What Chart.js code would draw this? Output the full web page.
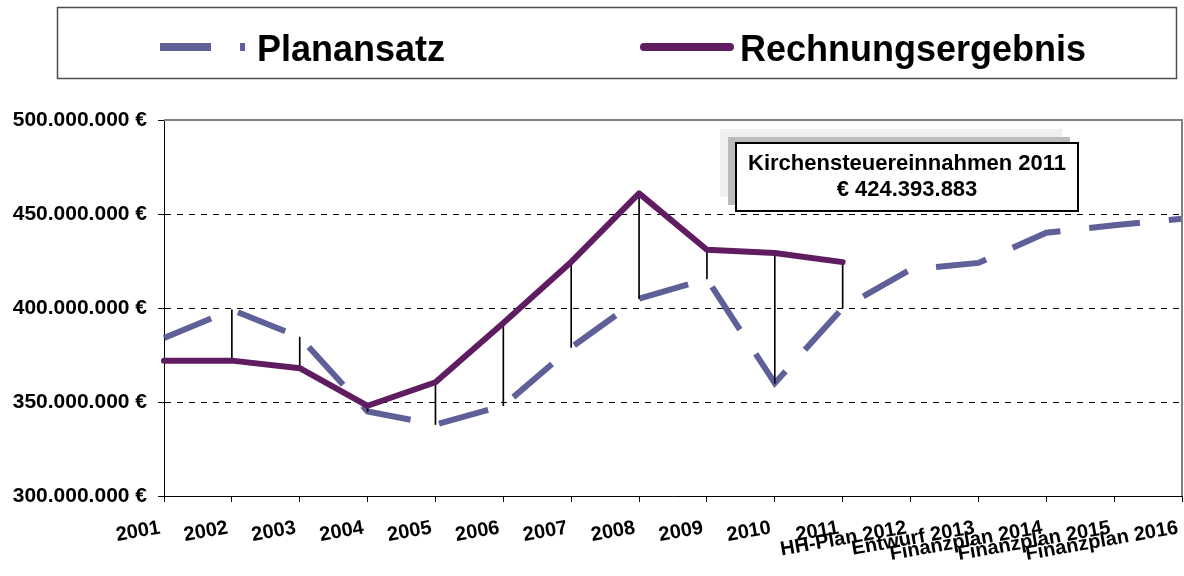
<!DOCTYPE html>
<html><head><meta charset="utf-8">
<script src="https://cdn.jsdelivr.net/npm/chart.js@4.4.1/dist/chart.umd.min.js"></script>
<style>html,body{margin:0;padding:0;background:#fff;}#wrap{width:1184px;height:576px;position:relative;}</style>
</head><body><div id="wrap"><canvas id="c" width="1184" height="576"></canvas></div>
<script>
const categories = ['2001','2002','2003','2004','2005','2006','2007','2008','2009','2010','2011','HH-Plan 2012','Entwurf 2013','Finanzplan 2014','Finanzplan 2015','Finanzplan 2016'];
const planansatz = [384000000, 399000000, 384500000, 345000000, 338000000, 348000000, 379000000, 405000000, 415500000, 360000000, 400000000, 420500000, 424000000, 440000000, 444000000, 447500000];
const rechnungsergebnis = [372000000, 372000000, 368000000, 348000000, 360500000, 392000000, 424500000, 461000000, 431000000, 429300000, 424393883, null, null, null, null, null];
const yTicks = [300000000, 350000000, 400000000, 450000000, 500000000];
const seriesNames = ['Planansatz', 'Rechnungsergebnis'];
const annotationTitle = 'Kirchensteuereinnahmen 2011';
const annotationIndex = 10;

const FONT = '"Liberation Sans", Arial, Helvetica, sans-serif';
function fmtNum(v){ return String(Math.round(v)).replace(/\B(?=(\d{3})+(?!\d))/g, '.'); }
const dropLines = categories.map((c, i) => rechnungsergebnis[i] == null ? null : [Math.min(planansatz[i], rechnungsergebnis[i]), Math.max(planansatz[i], rechnungsergebnis[i])]);

const frame = {
  id: 'frame',
  afterDatasetsDraw(chart) {
    const {ctx, chartArea: a} = chart;
    ctx.save();
    ctx.strokeStyle = '#808080'; ctx.lineWidth = 2;
    ctx.beginPath();
    ctx.moveTo(a.left, a.top); ctx.lineTo(a.right, a.top); ctx.lineTo(a.right, a.bottom);
    ctx.stroke();
    ctx.restore();
  }
};

const boxLegend = {
  id: 'boxLegend',
  afterDraw(chart) {
    const ctx = chart.ctx;
    ctx.save();
    ctx.strokeStyle = '#4d4d4d'; ctx.lineWidth = 1.5;
    ctx.strokeRect(57.5, 7.5, 1119, 71);
    const items = [{ds: 0, x0: 160, x1: 245, tx: 257}, {ds: 1, x0: 644, x1: 730, tx: 740}];
    items.forEach(it => {
      const ds = chart.data.datasets[it.ds];
      ctx.beginPath();
      ctx.strokeStyle = ds.borderColor; ctx.lineWidth = 8;
      ctx.setLineDash(ds.borderDash || []);
      ctx.lineCap = ds.borderCapStyle || 'butt';
      ctx.moveTo(it.x0, 47); ctx.lineTo(it.x1, 47); ctx.stroke();
      ctx.setLineDash([]);
      ctx.fillStyle = '#000'; ctx.font = 'bold 36px ' + FONT;
      ctx.textBaseline = 'alphabetic'; ctx.textAlign = 'left';
      ctx.fillText(ds.label, it.tx, 61);
    });
    ctx.restore();
  }
};

const note = {
  id: 'note',
  afterDraw(chart) {
    const ctx = chart.ctx;
    const x = 736, y = 143, w = 342, h = 68;
    ctx.save();
    ctx.fillStyle = '#efefef'; ctx.fillRect(x - 16, y - 14, w, h);
    ctx.fillStyle = '#bcbcbc'; ctx.fillRect(x - 8, y - 6, w, h);
    ctx.fillStyle = '#fff'; ctx.fillRect(x, y, w, h);
    ctx.strokeStyle = '#000'; ctx.lineWidth = 2; ctx.strokeRect(x, y, w, h);
    ctx.fillStyle = '#000'; ctx.font = 'bold 22px ' + FONT;
    ctx.textAlign = 'center'; ctx.textBaseline = 'alphabetic';
    ctx.fillText(annotationTitle, x + w / 2, 170);
    ctx.fillText('€ ' + fmtNum(rechnungsergebnis[annotationIndex]), x + w / 2, 196);
    ctx.restore();
  }
};

new Chart(document.getElementById('c'), {
  type: 'line',
  data: {
    labels: categories,
    datasets: [
      { type: 'line', label: seriesNames[0], data: planansatz, borderColor: '#5f6098', borderWidth: 6,
        borderDash: [51, 29], borderCapStyle: 'butt', borderJoinStyle: 'miter', pointRadius: 0, tension: 0, fill: false, order: 2 },
      { type: 'line', label: seriesNames[1], data: rechnungsergebnis, borderColor: '#601c60', borderWidth: 6,
        borderCapStyle: 'round', borderJoinStyle: 'round', pointRadius: 0, tension: 0, fill: false, order: 0 },
      { type: 'bar', label: 'drop', data: dropLines, backgroundColor: '#000', borderWidth: 0, barThickness: 1, order: 1 }
    ]
  },
  options: {
    responsive: false,
    animation: false,
    events: [],
    layout: { padding: { top: 120, left: 0, right: 2, bottom: 0 } },
    plugins: { legend: { display: false }, tooltip: { enabled: false } },
    scales: {
      x: {
        type: 'category', offset: false,
        grid: { offset: false, drawOnChartArea: false, drawTicks: true, tickLength: 6, tickColor: '#000', tickWidth: 1 },
        border: { display: true, color: '#000', width: 1 },
        ticks: { autoSkip: false, minRotation: 10, maxRotation: 10, padding: 14, labelOffset: -4, color: '#000',
          font: { family: FONT, size: 20, weight: 'bold' } },
        afterFit(s) { s.height = 80; s.paddingLeft = 0; s.paddingRight = 0; }
      },
      y: {
        min: 300000000, max: 500000000,
        afterBuildTicks(s) { s.ticks = yTicks.map(v => ({ value: v })); },
        grid: {
          color: c => (c.tick && (c.tick.value === 300000000 || c.tick.value === 500000000)) ? 'rgba(0,0,0,0)' : '#000',
          lineWidth: 1, drawTicks: true, tickLength: 6, tickColor: '#000', tickWidth: 1, tickBorderDash: []
        },
        border: { display: true, color: '#000', width: 1, dash: [6, 6] },
        ticks: { padding: 11, color: '#000', font: { family: FONT, size: 21, weight: 'bold' },
          callback: v => fmtNum(v) + ' €' },
        afterFit(s) { s.width = 164; s.paddingTop = 0; s.paddingBottom = 0; }
      }
    }
  },
  plugins: [frame, note, boxLegend]
});
</script>
</body></html>
